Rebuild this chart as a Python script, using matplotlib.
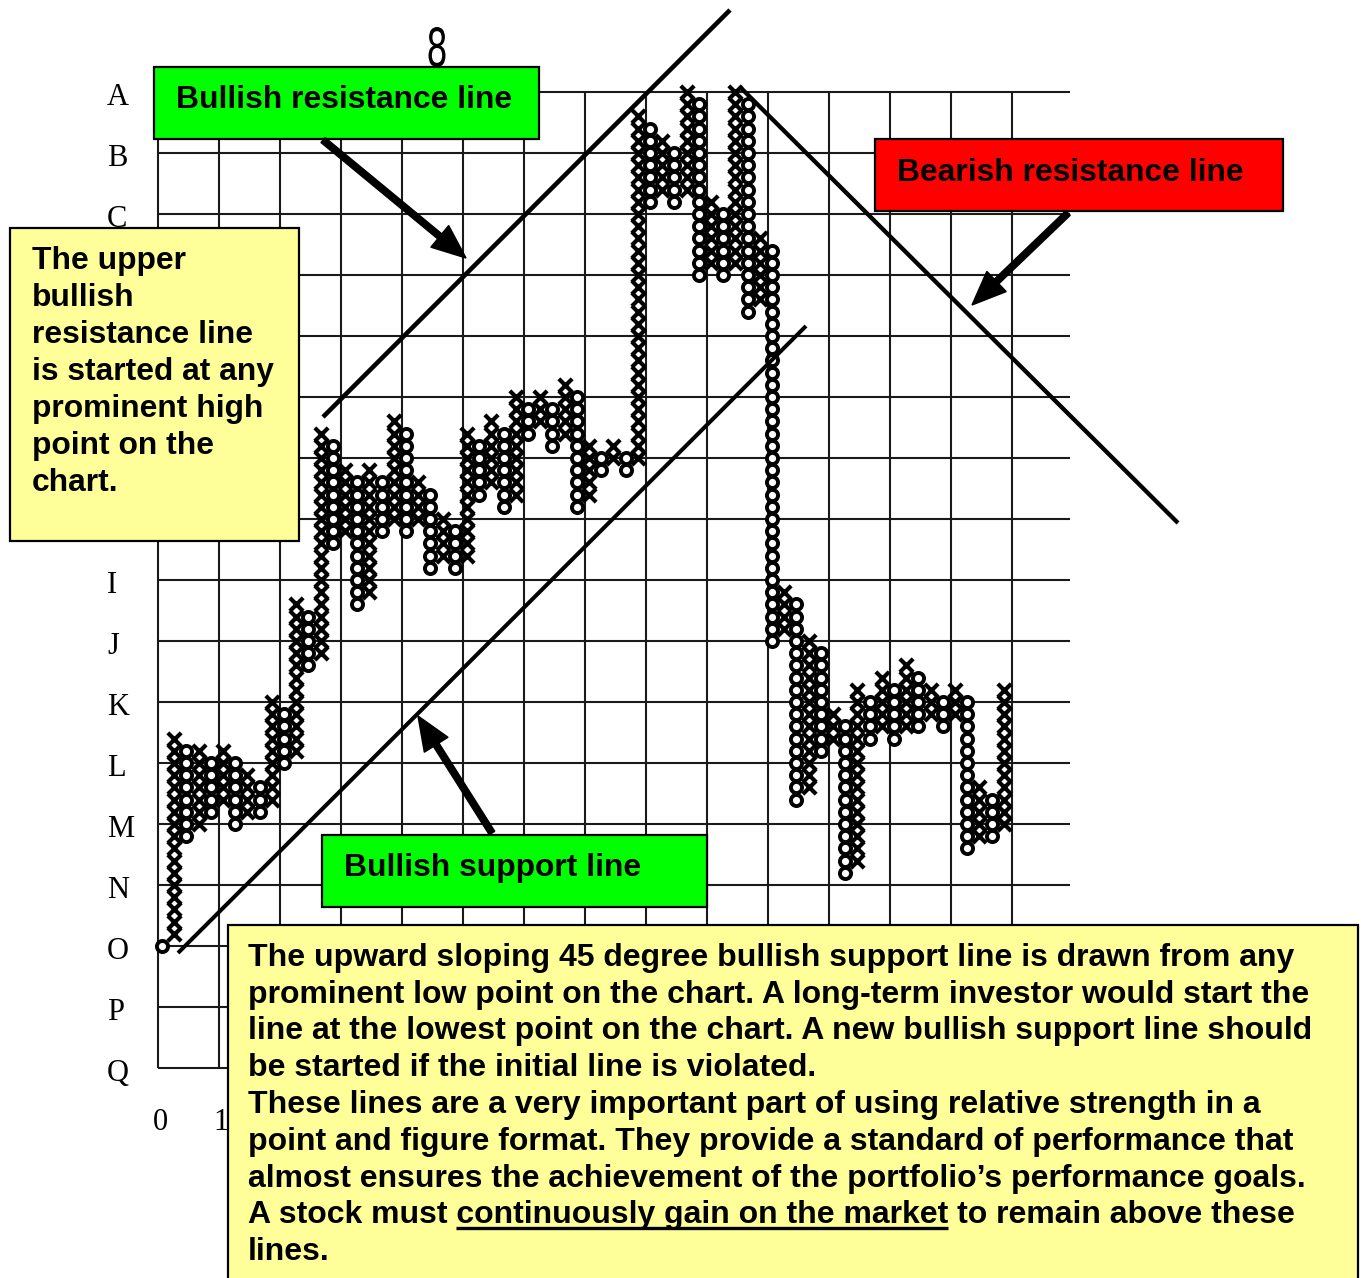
import matplotlib
matplotlib.use("Agg")
import matplotlib.pyplot as plt
from matplotlib.patches import Rectangle, FancyArrow, PathPatch
from matplotlib.textpath import TextPath
from matplotlib.font_manager import FontProperties
import matplotlib.transforms as mtransforms

# ---------------- data: point & figure columns ----------------
col_type = ["O", "X", "O", "X", "O", "X", "O", "X", "O", "X",
            "O", "X", "O", "X", "O", "X", "O", "X", "O", "X",
            "O", "X", "O", "X", "O", "X", "O", "X", "O", "X",
            "O", "X", "O", "X", "O", "X", "O", "X", "O", "X",
            "O", "X", "O", "X", "O", "X", "O", "X", "O", "X",
            "O", "X", "O", "X", "O", "X", "O", "X", "O", "X",
            "O", "X", "O", "X", "O", "X", "O", "X", "O", "X"]
col_low = [10, 11, 19, 20, 21, 22, 20, 21, 21, 22,
           25, 26, 33, 34, 43, 44, 38, 39, 44, 45,
           44, 45, 41, 42, 41, 42, 47, 48, 46, 47,
           52, 53, 51, 52, 46, 47, 49, 50, 49, 50,
           71, 72, 71, 72, 65, 66, 65, 66, 62, 63,
           35, 36, 22, 23, 26, 27, 16, 17, 27, 28,
           27, 28, 28, 29, 28, 29, 18, 19, 19, 20]
col_high = [10, 27, 26, 26, 25, 26, 25, 24, 23, 30,
            29, 38, 37, 52, 51, 49, 48, 49, 48, 53,
            52, 48, 47, 45, 44, 52, 51, 53, 52, 55,
            54, 55, 54, 56, 55, 51, 50, 51, 50, 78,
            77, 76, 75, 80, 79, 71, 70, 80, 79, 68,
            67, 39, 38, 35, 34, 29, 28, 31, 30, 32,
            31, 33, 32, 31, 30, 31, 30, 23, 22, 31]
row_labels = list("ABCDEFGHIJKLMNOPQ")
col_labels = [str(i) for i in range(15)]

# ---------------- layout helpers ----------------
W, H = 1361, 1278
PITCH = 12.2          # pixels per box
X0, Y0 = 162, 1068    # pixel centre of column 0 / level 0


def P(x, y):
    """pixel position -> data coords (columns, box levels)"""
    return ((x - X0) / PITCH, (Y0 - y) / PITCH)


fig = plt.figure(figsize=(W / 100, H / 100), dpi=100)
ax = fig.add_axes([0, 0, 1, 1])
ax.set_xlim(P(0, 0)[0], P(W, 0)[0])
ax.set_ylim(P(0, H)[1], P(0, 0)[1])
ax.axis("off")
fig.patch.set_facecolor("white")

# annotation boxes (pixel rectangles: x0, y0, x1, y1)
BOX_LEFT = (10, 228, 299, 541)
BOX_BOTTOM = (228, 925, 1358, 1290)


def covered(xp, yp):
    for b in (BOX_LEFT, BOX_BOTTOM):
        if b[0] <= xp <= b[2] and b[1] <= yp <= b[3]:
            return True
    return False


# ---------------- grid ----------------
n_rows = len(row_labels)
grid_x0 = -4 / PITCH
grid_right = P(1070, 0)[0]
top_level = 5 * (n_rows - 1)
for i in range(len(col_labels)):
    gx = 5 * i + grid_x0
    ax.plot([gx, gx], [0, top_level], color="#1a1a1a", lw=1.5, zorder=1,
            solid_capstyle="butt")
for j in range(n_rows):
    ax.plot([grid_x0, grid_right], [5 * j, 5 * j], color="#1a1a1a", lw=1.5,
            zorder=1, solid_capstyle="butt")

# row labels (only those not hidden under the note boxes)
for j, lab in enumerate(row_labels):
    level = top_level - 5 * j - 5.5 / PITCH
    yp = Y0 - level * PITCH
    if covered(120, yp):
        continue
    ax.text(P(107, 0)[0], level, lab, fontsize=22,
            family="Liberation Serif", ha="left", va="center", zorder=2)
# column labels
for i, lab in enumerate(col_labels):
    gx = 5 * i + grid_x0 + 2 / PITCH
    xp = X0 + gx * PITCH
    if covered(xp, 1122):
        continue
    ax.text(gx, P(0, 1122)[1], lab, fontsize=22,
            family="Liberation Serif", ha="center", va="center", zorder=2)

# stray "8" at the top
fp8 = FontProperties(family="DejaVu Sans")
tp = TextPath((0, 0), "8", size=40, prop=fp8)
bb = tp.get_extents()
sx = 17 / bb.width
sy = 40 / bb.height
cx, cy = P(437, 47)
tr = (mtransforms.Affine2D().translate(-bb.x0 - bb.width / 2, -bb.y0 - bb.height / 2)
      .scale(sx / PITCH, sy / PITCH).translate(cx, cy))
ax.add_patch(PathPatch(tr.transform_path(tp), facecolor="black",
                       edgecolor="none", zorder=2))

# ---------------- point & figure symbols ----------------
ox, oy, xx, xy = [], [], [], []
for c, (t, lo, hi) in enumerate(zip(col_type, col_low, col_high)):
    for k in range(lo, hi + 1):
        if t == "O":
            ox.append(c)
            oy.append(k)
        else:
            xx.append(c)
            xy.append(k)
ax.scatter(xx, xy, marker="x", s=92, color="black", linewidths=3.0, zorder=3)
ax.scatter(ox, oy, marker="o", s=64, facecolor="white", edgecolor="black",
           linewidths=2.8, zorder=3)

# ---------------- trend lines ----------------
lines = [((323, 417), (730, 10), 3.3),
         ((178, 953), (806, 326), 2.9),
         ((740, 87), (1178, 523), 3.1)]
for a, b, lw in lines:
    pa, pb = P(*a), P(*b)
    ax.plot([pa[0], pb[0]], [pa[1], pb[1]], color="black", lw=lw, zorder=4,
            solid_capstyle="butt")

# ---------------- arrows ----------------
arrows = [((323, 140), (466, 258)),
          ((1068, 213), (972, 305)),
          ((492, 833), (418, 716))]
for tail, tip in arrows:
    pt, pp = P(*tail), P(*tip)
    ax.add_patch(FancyArrow(pt[0], pt[1], pp[0] - pt[0], pp[1] - pt[1],
                            width=6.5 / PITCH, head_width=28 / PITCH,
                            head_length=34 / PITCH, length_includes_head=True,
                            color="black", zorder=6))


# ---------------- text boxes ----------------
def box(rect, color):
    x0, y0, x1, y1 = rect
    a = P(x0, y1)
    ax.add_patch(Rectangle(a, (x1 - x0) / PITCH, (y1 - y0) / PITCH,
                           facecolor=color, edgecolor="black", lw=1.6,
                           zorder=5))


FS = 22.9
TXT = dict(fontsize=FS, fontweight="bold", family="Liberation Sans",
           ha="left", va="baseline", zorder=7, color="black")

box((154, 67, 539, 139), "#00FF00")
ax.text(*P(176, 108), "Bullish resistance line", **TXT)

box((875, 139, 1283, 211), "#FF0000")
ax.text(*P(897, 181), "Bearish resistance line", **TXT)

box((322, 835, 707, 907), "#00FF00")
ax.text(*P(344, 876), "Bullish support line", **TXT)

box(BOX_LEFT, "#FFFF99")
left_lines = ["The upper", "bullish", "resistance line", "is started at any",
              "prominent high", "point on the", "chart."]
for i, s in enumerate(left_lines):
    ax.text(*P(32, 269 + 37 * i), s, **TXT)

box(BOX_BOTTOM, "#FFFF99")
bottom_lines = [
    "The upward sloping 45 degree bullish support line is drawn from any",
    "prominent low point on the chart. A long-term investor would start the",
    "line at the lowest point on the chart. A new bullish support line should",
    "be started if the initial line is violated.",
    "These lines are a very important part of using relative strength in a",
    "point and figure format. They provide a standard of performance that",
    "almost ensures the achievement of the portfolio\u2019s performance goals.",
    "A stock must continuously gain on the market to remain above these",
    "lines.",
]
base0 = 966
step = 36.75
TXTB = dict(TXT, fontsize=23.0)
for i, s in enumerate(bottom_lines):
    ax.text(*P(248, base0 + step * i), s, **TXTB)

# underline "continuously gain on the market"
renderer = fig.canvas.get_renderer()


def width_px(s):
    t = ax.text(0, 0, s, **TXTB)
    w = t.get_window_extent(renderer=renderer).width
    t.remove()
    return w


pre = width_px("A stock must x") - width_px("x")
end = width_px("A stock must continuously gain on the market")
uy = base0 + step * 7 + 5
u0, u1 = P(248 + pre, uy), P(248 + end, uy)
ax.plot([u0[0], u1[0]], [u0[1], u1[1]], color="black", lw=2.4, zorder=7,
        solid_capstyle="butt")

fig.savefig("out.png", dpi=100, facecolor="white")
